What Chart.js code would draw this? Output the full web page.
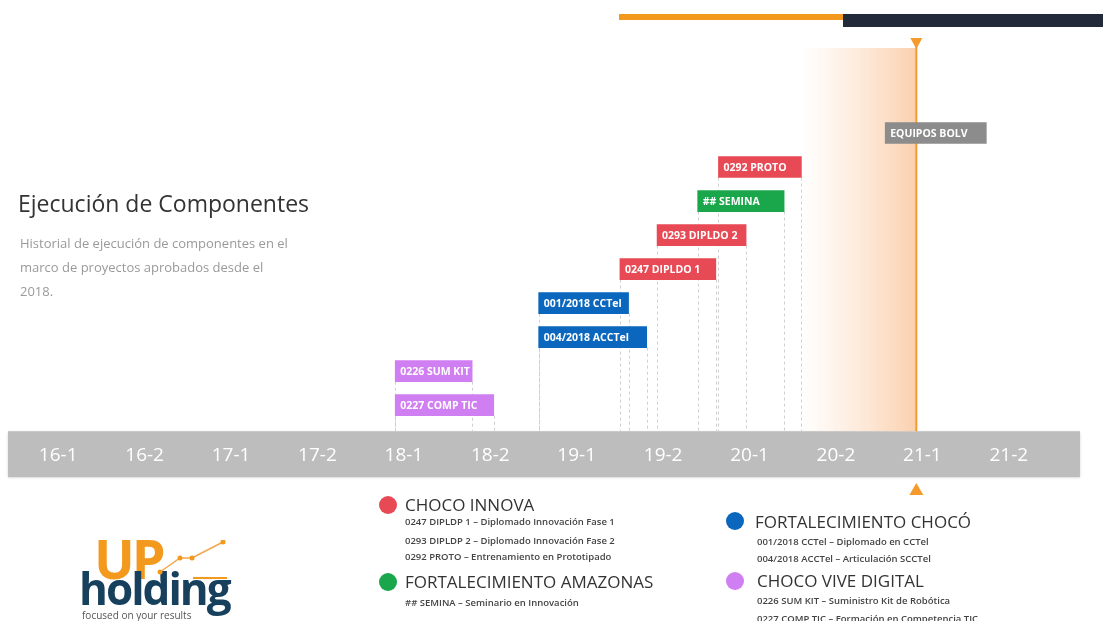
<!DOCTYPE html>
<html>
<head>
<meta charset="utf-8">
<script src="https://cdn.jsdelivr.net/npm/chart.js@4.4.1/dist/chart.umd.min.js"></script>
<style>
  body{margin:0;background:#fff;font-family:'Open Sans',sans-serif;}
  #lienzo{position:absolute;left:0;top:0;width:1103px;height:621px;overflow:hidden;}
  #wrap{position:absolute;left:0;top:0;width:1103px;height:621px;}
  .abs{position:absolute;white-space:nowrap;}
  .titulo{font-size:23px;color:#333;line-height:30px;}
  .desc{font-size:13px;color:#9a9a9a;line-height:24px;}
  .grupo{font-size:17px;color:#333;line-height:20px;}
  .item{font-size:9.5px;color:#444;font-weight:600;line-height:12px;}
  .dot{position:absolute;width:18px;height:18px;border-radius:50%;}
</style>
</head>
<body>
<div id="lienzo">
  <div class="abs" style="left:619px;top:14px;width:224px;height:6px;background:#f39a1e"></div>
  <div class="abs" style="left:843px;top:14px;width:260px;height:13px;background:#232b3b"></div>
  <div id="wrap"><canvas id="grafico"></canvas></div>

  <div class="abs titulo" style="left:18px;top:188px">Ejecución de Componentes</div>
  <div class="abs desc" style="left:20px;top:231px">Historial de ejecución de componentes en el<br>marco de proyectos aprobados desde el<br>2018.</div>

  <div class="dot" style="left:379px;top:496px;background:#e84a55"></div>
  <div class="abs grupo" style="left:405px;top:495px">CHOCO INNOVA</div>
  <div class="abs item" style="left:405px;top:516px">0247 DIPLDP 1 – Diplomado Innovación Fase 1</div>
  <div class="abs item" style="left:405px;top:535px">0293 DIPLDP 2 – Diplomado Innovación Fase 2</div>
  <div class="abs item" style="left:405px;top:551px">0292 PROTO – Entrenamiento en Prototipado</div>
  <div class="dot" style="left:379px;top:573px;background:#1aa64a"></div>
  <div class="abs grupo" style="left:405px;top:572px">FORTALECIMIENTO AMAZONAS</div>
  <div class="abs item" style="left:405px;top:597px">## SEMINA – Seminario en Innovación</div>

  <div class="dot" style="left:726px;top:512px;background:#0a67bd"></div>
  <div class="abs grupo" style="left:755px;top:512px">FORTALECIMIENTO CHOCÓ</div>
  <div class="abs item" style="left:757px;top:536px">001/2018 CCTel – Diplomado en CCTel</div>
  <div class="abs item" style="left:757px;top:553px">004/2018 ACCTel – Articulación SCCTel</div>
  <div class="dot" style="left:726px;top:572px;background:#d07ff2"></div>
  <div class="abs grupo" style="left:757px;top:571px">CHOCO VIVE DIGITAL</div>
  <div class="abs item" style="left:757px;top:595px">0226 SUM KIT – Suministro Kit de Robótica</div>
  <div class="abs item" style="left:757px;top:613px">0227 COMP TIC – Formación en Competencia TIC</div>

  <div class="abs" style="left:94px;top:533px;font-size:54px;font-weight:700;color:#f39a1e;line-height:50px;letter-spacing:-3px">UP</div>
  <div class="abs" style="left:79px;top:566px;font-size:44px;font-weight:700;color:#17405c;line-height:44px;letter-spacing:-2px">holding</div>
  <div class="abs" style="left:82px;top:609px;font-size:10px;color:#555;line-height:12px">focused on your results</div>
  <svg class="abs" style="left:155px;top:540px" width="75" height="45">
    <polyline points="5,32 25,18 37,18 68,2" fill="none" stroke="#f3a64a" stroke-width="1.5"/>
    <circle cx="5" cy="32" r="2.5" fill="#f39a1e"/><circle cx="25" cy="18" r="2.5" fill="#f39a1e"/>
    <circle cx="37" cy="18" r="2.5" fill="#f39a1e"/><circle cx="68" cy="2" r="2.5" fill="#f39a1e"/>
    <line x1="38" y1="38" x2="72" y2="38" stroke="#f39a1e" stroke-width="2"/>
  </svg>
</div>

<script>
// semestres del eje
const semestres = ['16-1','16-2','17-1','17-2','18-1','18-2','19-1','19-2','20-1','20-2','21-1','21-2'];

// componentes (una fila cada uno, de arriba a abajo)
const componentes = ['EQUIPOS BOLV','0292 PROTO','## SEMINA','0293 DIPLDO 2','0247 DIPLDO 1','001/2018 CCTel','004/2018 ACCTel','0226 SUM KIT','0227 COMP TIC'];
const inicio = [10.07, 8.14, 7.90, 7.43, 7.00, 6.06, 6.06, 4.40, 4.40];
const fin    = [11.24, 9.10, 8.90, 8.46, 8.11, 7.10, 7.31, 5.29, 5.54];
const programa = ['otro','innova','amazonas','innova','innova','choco','choco','vive','vive'];

// marcador de hoy y zona sombreada
const hoy = 10.43;
const sombraDesde = 9.08;

const coloresPrograma = {otro:'#8c8c8c', innova:'#e84a55', amazonas:'#1aa64a', choco:'#0a67bd', vive:'#d07ff2'};

const pluginTimeline = {
    id:'timeline',
    beforeDraw(chart){
        const c = chart.ctx, a = chart.chartArea;
        // banda gris del eje
        c.save();
        c.shadowColor = 'rgba(0,0,0,0.15)';
        c.shadowBlur = 3;
        c.shadowOffsetY = 1;
        c.fillStyle = '#bdbdbd';
        c.fillRect(a.left - 7, a.bottom + 9, (a.right + 28) - (a.left - 7), 46);
        c.restore();
    },
    beforeDatasetsDraw(chart){
        const c = chart.ctx, a = chart.chartArea, x = chart.scales.x;
        const bandaTop = a.bottom + 9;
        const xh = x.getPixelForValue(hoy);
        const xs = x.getPixelForValue(sombraDesde);
        c.save();
        let g = c.createLinearGradient(xs, 0, xh, 0);
        g.addColorStop(0, 'rgba(252,215,185,0)');
        g.addColorStop(1, 'rgba(250,200,160,0.85)');
        c.fillStyle = g;
        c.fillRect(xs, 48, xh - xs, bandaTop - 48);

        // lineas punteadas de cada componente
        c.strokeStyle = '#cfcfcf';
        c.lineWidth = 1;
        c.setLineDash([3,3]);
        chart.getDatasetMeta(0).data.forEach((bar, i) => {
            if (programa[i] === 'otro') return;
            const y0 = bar.y + bar.height / 2;
            [bar.base, bar.x].forEach(px => {
                c.beginPath();
                c.moveTo(Math.round(px) + 0.5, y0);
                c.lineTo(Math.round(px) + 0.5, bandaTop);
                c.stroke();
            });
        });
        c.setLineDash([]);

        // linea de hoy
        c.strokeStyle = '#f59a2c';
        c.lineWidth = 2;
        c.beginPath();
        c.moveTo(xh, 44);
        c.lineTo(xh, bandaTop);
        c.stroke();
        c.fillStyle = '#f59a2c';
        c.beginPath();
        c.moveTo(xh - 6, 38); c.lineTo(xh + 6, 38); c.lineTo(xh, 49); c.closePath();
        c.fill();
        c.beginPath();
        c.moveTo(xh - 7, 495); c.lineTo(xh + 7, 495); c.lineTo(xh, 483); c.closePath();
        c.fill();
        c.restore();
    },
    afterDatasetsDraw(chart){
        const c = chart.ctx;
        c.save();
        c.fillStyle = '#fff';
        c.font = 'bold 10.5px "Open Sans"';
        c.textBaseline = 'middle';
        chart.getDatasetMeta(0).data.forEach((bar, i) => {
            const izq = Math.min(bar.base, bar.x);
            c.fillText(componentes[i], izq + 5, bar.y + 1);
        });
        c.restore();
    }
};

new Chart(document.getElementById('grafico'), {
    type:'bar',
    data:{
        labels: componentes,
        datasets:[{
            data: inicio.map((s, i) => [s, fin[i]]),
            backgroundColor: programa.map(p => coloresPrograma[p]),
            borderWidth: 0,
            barThickness: 21
        }]
    },
    options:{
        indexAxis:'y',
        responsive:true,
        maintainAspectRatio:false,
        animation:false,
        layout:{padding:{left:15, right:51, top:116, bottom:132}},
        plugins:{legend:{display:false}, tooltip:{enabled:false}},
        scales:{
            y:{display:false},
            x:{type:'linear', min:0, max:12, display:false},
            x2:{
                type:'category',
                labels: semestres,
                position:'bottom',
                offset:true,
                grid:{display:false, drawTicks:false},
                border:{display:false},
                ticks:{color:'#fff', padding:22, font:{family:'"Liberation Sans Narrow", "Open Sans"', size:19}, maxRotation:0, autoSkip:false}
            }
        }
    },
    plugins:[pluginTimeline]
});
</script>
</body>
</html>
